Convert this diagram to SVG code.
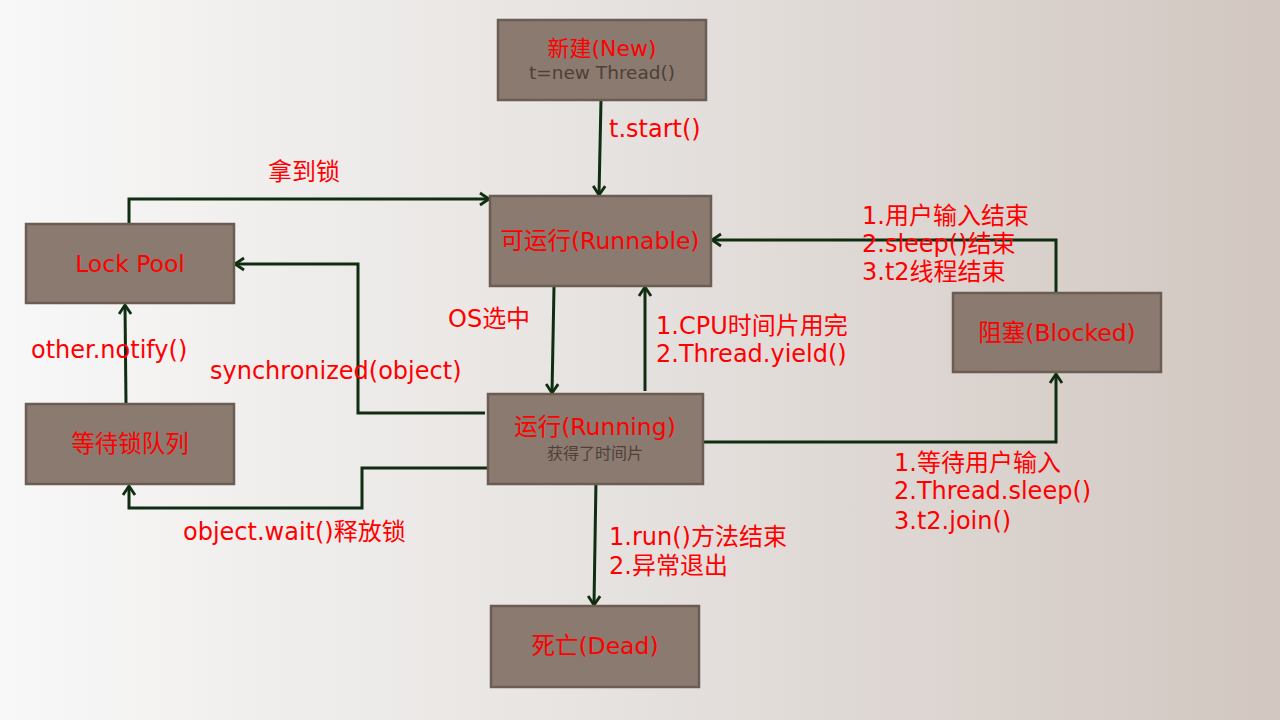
<svg xmlns="http://www.w3.org/2000/svg" width="1280" height="720" viewBox="0 0 1280 720">
<defs>
<linearGradient id="bg" x1="0" y1="0" x2="1" y2="0">
<stop offset="0" stop-color="#f8f8f8"/>
<stop offset="0.5" stop-color="#e5e1de"/>
<stop offset="1" stop-color="#d2c7c1"/>
</linearGradient>
<marker id="arr" markerWidth="16" markerHeight="16" refX="12" refY="8" orient="auto" markerUnits="userSpaceOnUse">
<path d="M3,2 L12,8 L3,14" fill="none" stroke="#0f2d10" stroke-width="2.8"/>
</marker>
</defs>
<style>
.box{fill:#8a7a6f;stroke:#6b5d54;stroke-width:2.5}
.t{font-family:"DejaVu Sans","Noto Sans CJK SC",sans-serif;fill:#ff0000;font-size:24px}
.c{text-anchor:middle;font-size:23.5px}
.sub{font-family:"DejaVu Sans","Noto Sans CJK SC",sans-serif;fill:#4e4037;text-anchor:middle}
.ln{fill:none;stroke:#0f2d10;stroke-width:3;marker-end:url(#arr)}
</style>
<rect x="0" y="0" width="1280" height="720" fill="url(#bg)"/>

<g id="connectors">
<path class="ln" d="M601,100 L599,195"/>
<path class="ln" d="M129,224 L129,199 L489,199"/>
<path class="ln" d="M485,413 L358,413 L358,264 L235,264"/>
<path class="ln" d="M488,468 L362,468 L362,508 L129,508 L129,486"/>
<path class="ln" d="M126,404 L125,305"/>
<path class="ln" d="M554,287 L552,393"/>
<path class="ln" d="M645,391 L645,287"/>
<path class="ln" d="M698,442 L1056,442 L1056,374"/>
<path class="ln" d="M1056,293 L1056,240 L712,240"/>
<path class="ln" d="M596,480 L594,605"/>
</g>

<g id="new">
<rect class="box" x="498" y="20" width="208" height="80"/>
<text class="t c" x="602" y="56" style="font-size:22px">新建(New)</text>
<text class="sub" x="602" y="79" font-size="18.5">t=new Thread()</text>
</g>
<g id="runnable">
<rect class="box" x="490" y="196" width="221" height="90"/>
<text class="t c" x="600" y="249">可运行(Runnable)</text>
</g>
<g id="lockpool">
<rect class="box" x="26" y="224" width="208" height="79"/>
<text class="t c" x="130" y="272">Lock Pool</text>
</g>
<g id="blocked">
<rect class="box" x="953" y="293" width="208" height="79"/>
<text class="t c" x="1057" y="341">阻塞(Blocked)</text>
</g>
<g id="waitqueue">
<rect class="box" x="26" y="404" width="208" height="80"/>
<text class="t c" x="130" y="452">等待锁队列</text>
</g>
<g id="running">
<rect class="box" x="488" y="394" width="215" height="90"/>
<text class="t c" x="595" y="435">运行(Running)</text>
<text class="sub" x="595" y="459" font-size="16">获得了时间片</text>
</g>
<g id="dead">
<rect class="box" x="491" y="606" width="208" height="81"/>
<text class="t c" x="595" y="654">死亡(Dead)</text>
</g>

<g id="labels">
<text class="t" x="609" y="137">t.start()</text>
<text class="t" x="268" y="180" font-size="21">拿到锁</text>
<text class="t" x="862" y="224">1.用户输入结束</text>
<text class="t" x="862" y="252">2.sleep()结束</text>
<text class="t" x="862" y="280">3.t2线程结束</text>
<text class="t" x="448" y="327">OS选中</text>
<text class="t" x="656" y="334">1.CPU时间片用完</text>
<text class="t" x="656" y="362">2.Thread.yield()</text>
<text class="t" x="31" y="358">other.notify()</text>
<text class="t" x="210" y="379">synchronized(object)</text>
<text class="t" x="183" y="540">object.wait()释放锁</text>
<text class="t" x="609" y="545">1.run()方法结束</text>
<text class="t" x="609" y="574">2.异常退出</text>
<text class="t" x="894" y="471">1.等待用户输入</text>
<text class="t" x="894" y="499">2.Thread.sleep()</text>
<text class="t" x="894" y="529">3.t2.join()</text>
</g>
</svg>
